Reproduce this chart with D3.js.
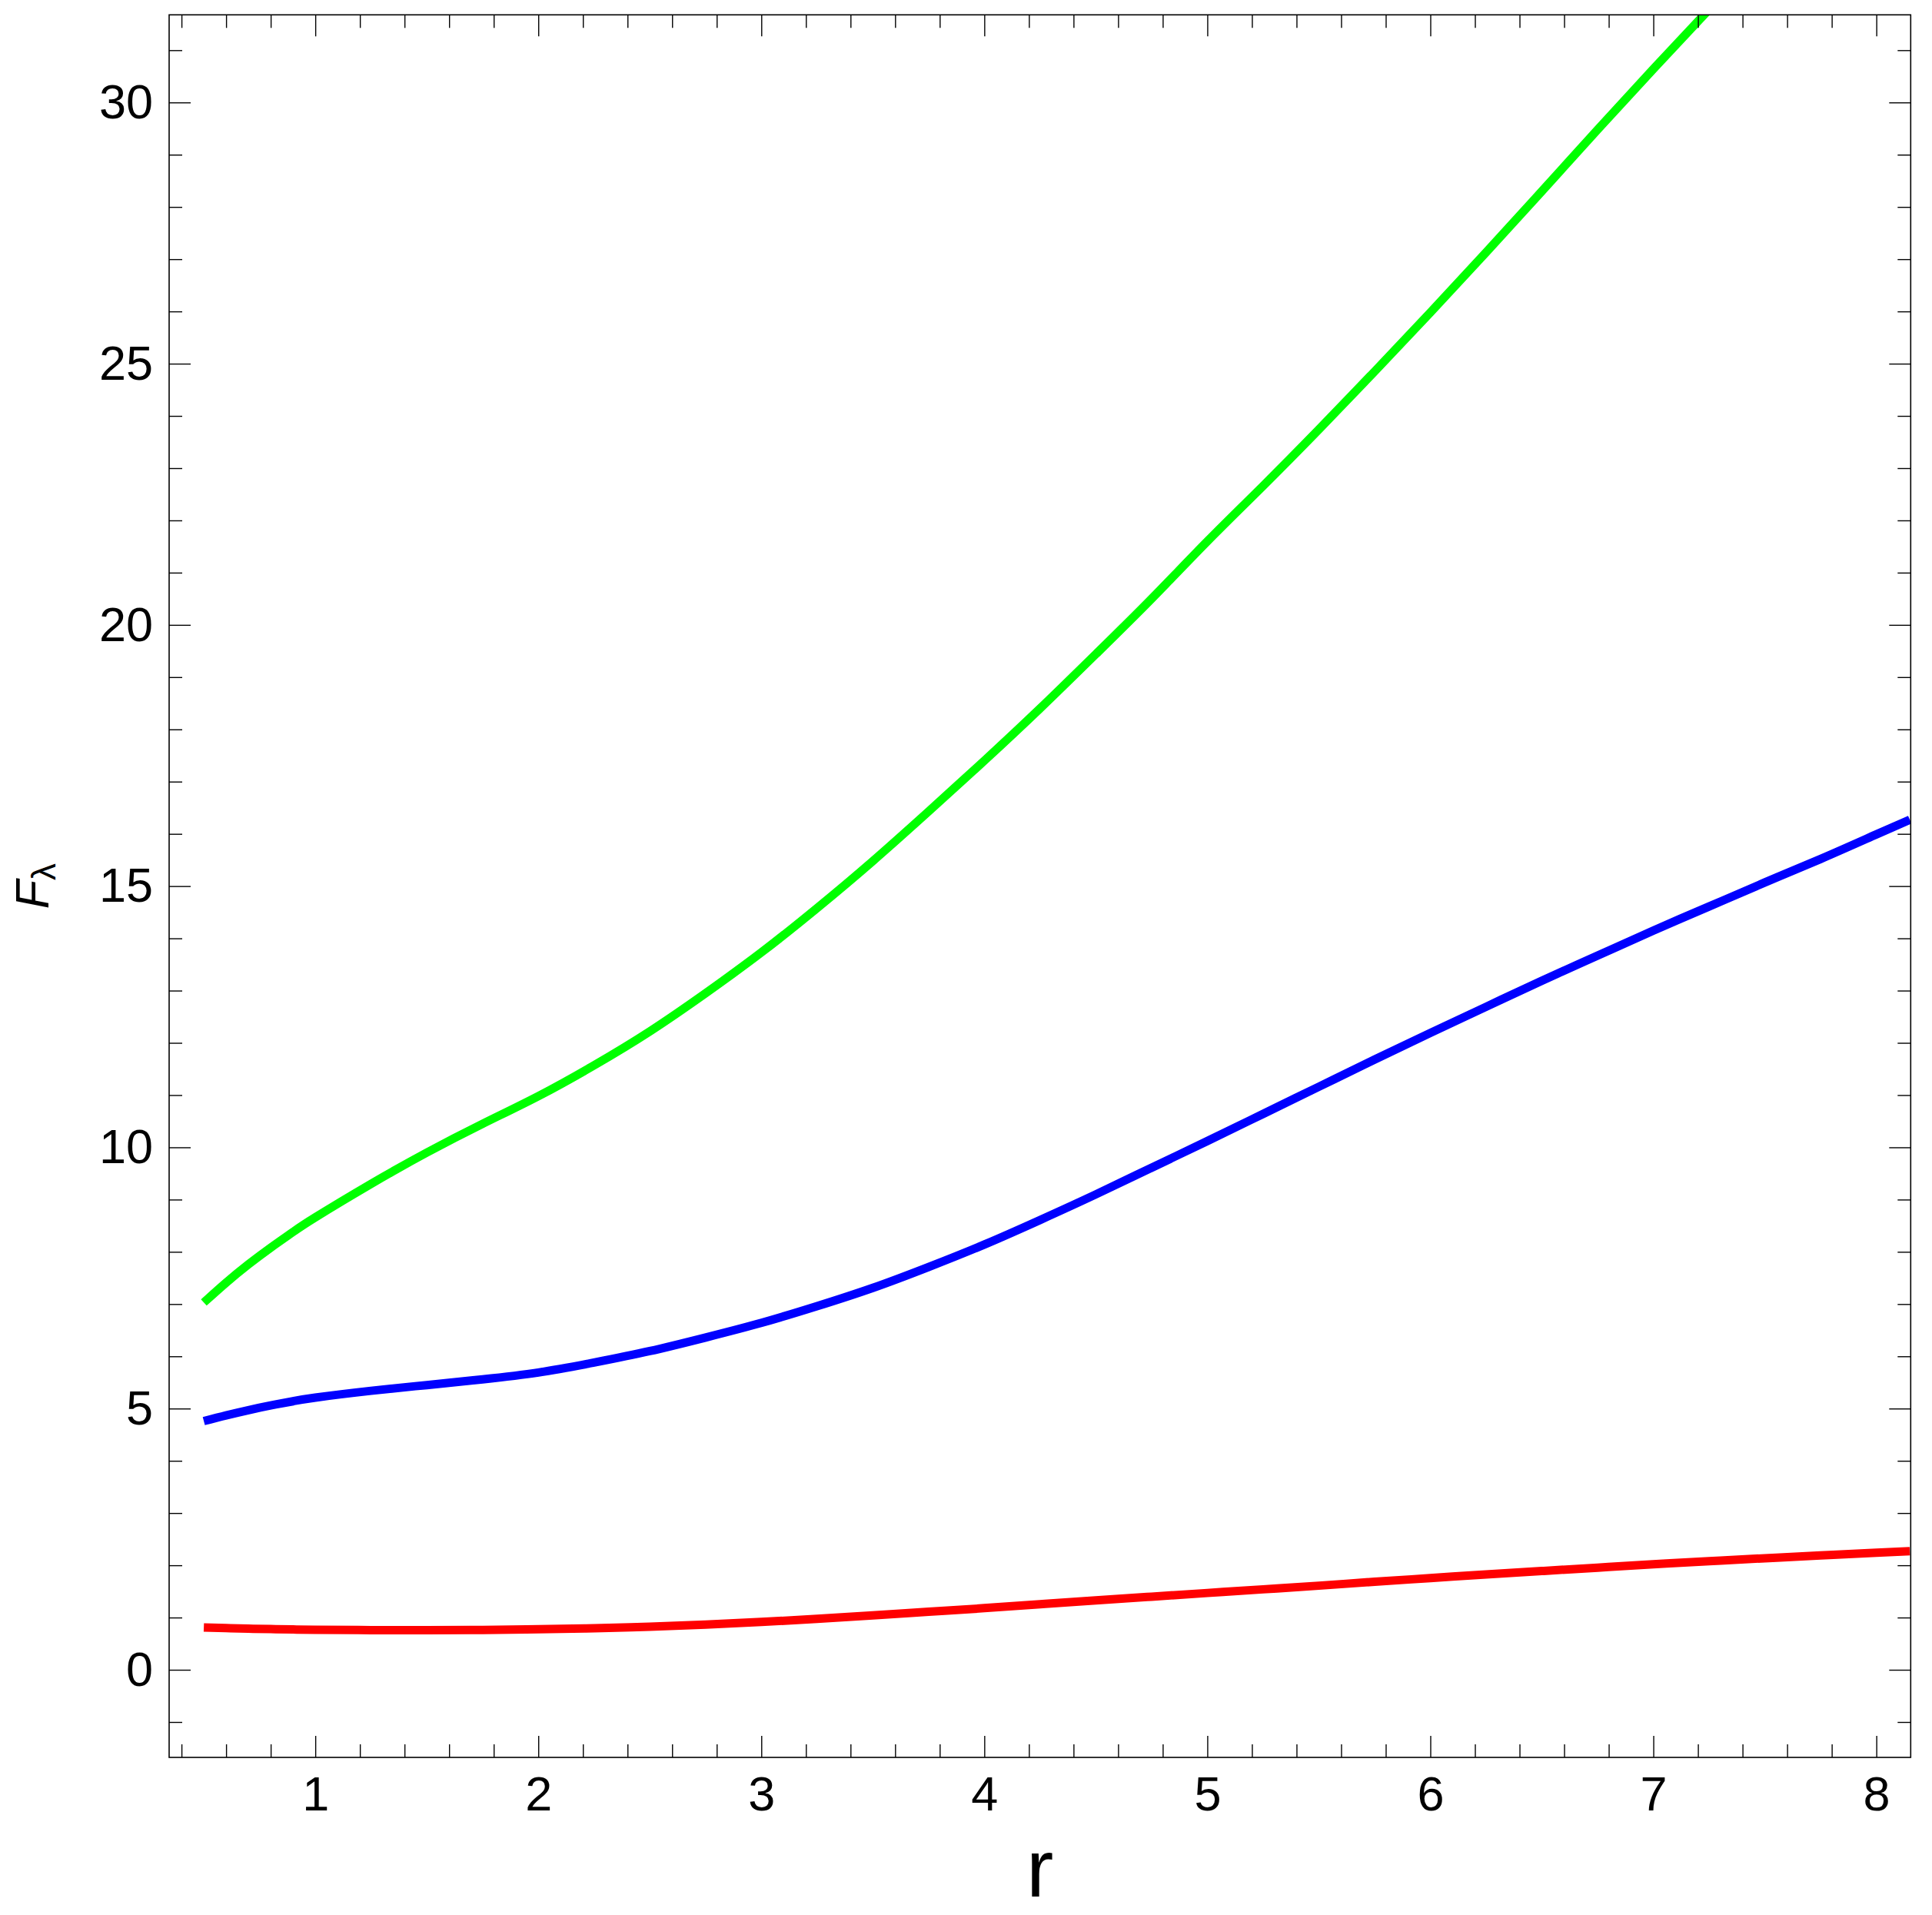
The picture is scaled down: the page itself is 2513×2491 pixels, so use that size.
<!DOCTYPE html>
<html>
<head>
<meta charset="utf-8">
<script src="https://cdn.jsdelivr.net/npm/d3@7"></script>
<style>
  html, body { margin: 0; padding: 0; background: #fff; }
  svg { display: block; }
  text { font-family: "Liberation Sans", Arial, sans-serif; }
</style>
</head>
<body>
<svg id="chart" width="2513" height="2491"></svg>
<script>
// ---- data ----
const rValues = [0.5, 0.6, 0.7, 0.8, 0.9, 1.0, 1.25, 1.5, 1.75, 2.0, 2.25, 2.5, 2.75, 3.0, 3.25, 3.5, 3.75, 4.0, 4.25, 4.5, 4.75, 5.0, 5.25, 5.5, 5.75, 6.0, 6.25, 6.5, 6.75, 7.0, 7.25, 7.5, 7.75, 8.0, 8.15];
const greenSeries = [7.03, 7.41, 7.76, 8.08, 8.38, 8.66, 9.30, 9.90, 10.45, 10.98, 11.57, 12.22, 12.95, 13.73, 14.58, 15.48, 16.43, 17.40, 18.40, 19.44, 20.50, 21.60, 22.66, 23.74, 24.85, 25.98, 27.13, 28.30, 29.48, 30.64, 31.78, 32.90, 34.00, 35.10, 35.75];
const blueSeries = [4.76, 4.87, 4.97, 5.06, 5.14, 5.21, 5.34, 5.45, 5.56, 5.69, 5.88, 6.10, 6.36, 6.64, 6.96, 7.31, 7.71, 8.14, 8.61, 9.10, 9.61, 10.12, 10.64, 11.16, 11.68, 12.19, 12.69, 13.19, 13.67, 14.15, 14.61, 15.07, 15.52, 15.99, 16.27];
const redSeries = [0.81, 0.797, 0.787, 0.779, 0.772, 0.767, 0.759, 0.757, 0.762, 0.775, 0.795, 0.825, 0.865, 0.915, 0.975, 1.04, 1.11, 1.18, 1.255, 1.33, 1.40, 1.47, 1.54, 1.61, 1.685, 1.755, 1.825, 1.89, 1.955, 2.02, 2.08, 2.135, 2.19, 2.24, 2.27];
const seriesColors = ["#00ff00", "#0000ff", "#ff0000"];
const xMajorTicks = [1, 2, 3, 4, 5, 6, 7, 8];
const yMajorTicks = [0, 5, 10, 15, 20, 25, 30];
const xLabel = "r";
const yLabelMain = "F";
const yLabelSub = "λ";

// ---- layout ----
const L = 220, R = 2485.3, T = 19.3, B = 2286;
const x = d3.scaleLinear().domain([0.3445, 8.154]).range([L, R]);
const y = d3.scaleLinear().domain([-1.677, 31.677]).range([B, T]);

const xMinor = d3.range(0.4, 8.15, 0.2).map(v => +v.toFixed(2)).filter(v => Math.abs(v - Math.round(v)) > 1e-6);
const yMinor = d3.range(-1, 32, 1).filter(v => v % 5 !== 0);

const svg = d3.select("#chart");
svg.append("rect").attr("width", 2513).attr("height", 2491).attr("fill", "#fff");

svg.append("defs").append("clipPath").attr("id", "clip")
  .append("rect").attr("x", L).attr("y", T).attr("width", R - L).attr("height", B - T);

// ---- curves ----
const seriesList = [greenSeries, blueSeries, redSeries];
const line = d3.line().x(d => x(d[0])).y(d => y(d[1])).curve(d3.curveNatural);
const gLines = svg.append("g").attr("clip-path", "url(#clip)");
seriesList.forEach((s, i) => {
  gLines.append("path")
    .datum(rValues.map((r, j) => [r, s[j]]))
    .attr("d", line)
    .attr("fill", "none")
    .attr("stroke", seriesColors[i])
    .attr("stroke-width", 11)
    .attr("stroke-linejoin", "round")
    .attr("stroke-linecap", "butt");
});

// ---- axes ----
const fontSize = 63;
function styleAxis(g) {
  g.select(".domain").remove();
  g.selectAll("line").attr("stroke", "#000").attr("stroke-width", 1.4);
  g.selectAll("text").attr("font-size", fontSize).attr("fill", "#000");
}
// bottom
svg.append("g").attr("transform", `translate(0,${B})`)
  .call(d3.axisBottom(x).tickValues(xMajorTicks).tickSize(-28).tickPadding(24).tickFormat(d3.format("d")))
  .call(styleAxis);
svg.append("g").attr("transform", `translate(0,${B})`)
  .call(d3.axisBottom(x).tickValues(xMinor).tickSize(-17).tickFormat(""))
  .call(styleAxis);
// top
svg.append("g").attr("transform", `translate(0,${T})`)
  .call(d3.axisTop(x).tickValues(xMajorTicks).tickSize(-28).tickFormat(""))
  .call(styleAxis);
svg.append("g").attr("transform", `translate(0,${T})`)
  .call(d3.axisTop(x).tickValues(xMinor).tickSize(-17).tickFormat(""))
  .call(styleAxis);
// left
svg.append("g").attr("transform", `translate(${L},0)`)
  .call(d3.axisLeft(y).tickValues(yMajorTicks).tickSize(-28).tickPadding(21).tickFormat(d3.format("d")))
  .call(styleAxis);
svg.append("g").attr("transform", `translate(${L},0)`)
  .call(d3.axisLeft(y).tickValues(yMinor).tickSize(-17).tickFormat(""))
  .call(styleAxis);
// right
svg.append("g").attr("transform", `translate(${R},0)`)
  .call(d3.axisRight(y).tickValues(yMajorTicks).tickSize(-28).tickFormat(""))
  .call(styleAxis);
svg.append("g").attr("transform", `translate(${R},0)`)
  .call(d3.axisRight(y).tickValues(yMinor).tickSize(-17).tickFormat(""))
  .call(styleAxis);

// frame
svg.append("rect").attr("x", L).attr("y", T).attr("width", R - L).attr("height", B - T)
  .attr("fill", "none").attr("stroke", "#000").attr("stroke-width", 1.6);

// ---- axis labels ----
svg.append("text")
  .attr("x", (L + R) / 2).attr("y", 2467)
  .attr("text-anchor", "middle").attr("font-size", 106).attr("fill", "#000")
  .text(xLabel);

const yl = svg.append("text")
  .attr("transform", `translate(63,${(T + B) / 2}) rotate(-90)`)
  .attr("text-anchor", "middle").attr("fill", "#000");
yl.append("tspan").attr("font-size", 61).attr("font-style", "italic").text(yLabelMain);
yl.append("tspan").attr("font-size", 44).attr("dy", 9).text(yLabelSub);
</script>
</body>
</html>
